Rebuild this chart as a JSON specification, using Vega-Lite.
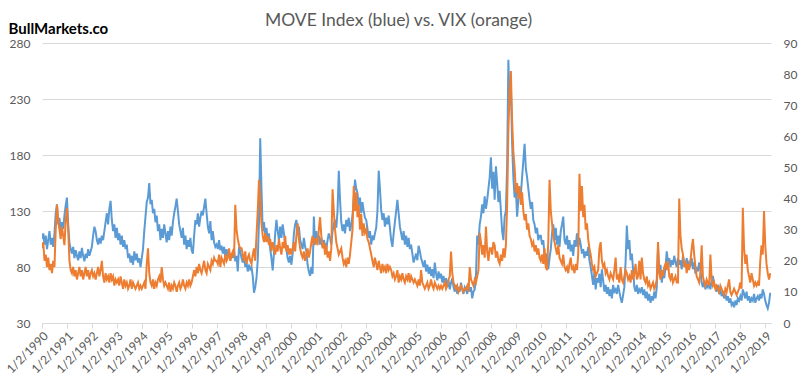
{
  "$schema": "https://vega.github.io/schema/vega-lite/v6.json",
  "width": 729,
  "height": 280,
  "autosize": {"type": "none"},
  "padding": {"left": 42, "top": 43, "right": 29, "bottom": 57},
  "background": "white",
  "title": {"text": "MOVE Index (blue) vs. VIX (orange)", "font": "Lato", "fontSize": 17.5, "fontWeight": "normal", "color": "#595959", "anchor": "middle", "frame": "group", "dx": -8, "dy": 12, "offset": 4},
  "config": {"view": {"stroke": null}},
  "data": {"values": [
{"t":1990.00,"m":105,"v":24},{"t":1990.05,"m":110,"v":26},{"t":1990.10,"m":100,"v":20},{"t":1990.15,"m":108,"v":22},{"t":1990.20,"m":96,"v":18},{"t":1990.25,"m":104,"v":21},{"t":1990.30,"m":112,"v":17},{"t":1990.35,"m":100,"v":19},{"t":1990.40,"m":106,"v":16},{"t":1990.45,"m":98,"v":20},{"t":1990.50,"m":110,"v":18},{"t":1990.55,"m":128,"v":30},{"t":1990.60,"m":136,"v":38},{"t":1990.65,"m":118,"v":33},{"t":1990.70,"m":124,"v":30},{"t":1990.75,"m":112,"v":27},{"t":1990.80,"m":120,"v":31},{"t":1990.85,"m":114,"v":28},{"t":1990.90,"m":126,"v":25},{"t":1990.95,"m":135,"v":33},
{"t":1991.00,"m":142,"v":37},{"t":1991.05,"m":118,"v":30},{"t":1991.10,"m":102,"v":20},{"t":1991.15,"m":96,"v":17},{"t":1991.20,"m":92,"v":16},{"t":1991.25,"m":98,"v":18},{"t":1991.30,"m":88,"v":15},{"t":1991.35,"m":95,"v":17},{"t":1991.40,"m":90,"v":14},{"t":1991.45,"m":86,"v":16},{"t":1991.50,"m":94,"v":18},{"t":1991.55,"m":88,"v":15},{"t":1991.60,"m":97,"v":17},{"t":1991.65,"m":90,"v":14},{"t":1991.70,"m":85,"v":16},{"t":1991.75,"m":92,"v":18},{"t":1991.80,"m":88,"v":15},{"t":1991.85,"m":96,"v":17},{"t":1991.90,"m":90,"v":14},{"t":1991.95,"m":94,"v":16},
{"t":1992.00,"m":98,"v":17},{"t":1992.05,"m":108,"v":15},{"t":1992.10,"m":116,"v":16},{"t":1992.15,"m":112,"v":14},{"t":1992.20,"m":104,"v":16},{"t":1992.25,"m":100,"v":18},{"t":1992.30,"m":106,"v":15},{"t":1992.35,"m":101,"v":17},{"t":1992.40,"m":108,"v":20},{"t":1992.45,"m":104,"v":15},{"t":1992.50,"m":112,"v":13},{"t":1992.55,"m":120,"v":16},{"t":1992.60,"m":128,"v":14},{"t":1992.65,"m":118,"v":15},{"t":1992.70,"m":132,"v":13},{"t":1992.75,"m":139,"v":16},{"t":1992.80,"m":122,"v":14},{"t":1992.85,"m":112,"v":15},{"t":1992.90,"m":118,"v":12},{"t":1992.95,"m":106,"v":14},
{"t":1993.00,"m":115,"v":13},{"t":1993.05,"m":104,"v":14},{"t":1993.10,"m":110,"v":12},{"t":1993.15,"m":100,"v":15},{"t":1993.20,"m":108,"v":13},{"t":1993.25,"m":98,"v":11},{"t":1993.30,"m":104,"v":14},{"t":1993.35,"m":96,"v":12},{"t":1993.40,"m":100,"v":13},{"t":1993.45,"m":88,"v":11},{"t":1993.50,"m":92,"v":12},{"t":1993.55,"m":84,"v":14},{"t":1993.60,"m":90,"v":11},{"t":1993.65,"m":82,"v":13},{"t":1993.70,"m":94,"v":12},{"t":1993.75,"m":86,"v":11},{"t":1993.80,"m":92,"v":12},{"t":1993.85,"m":84,"v":13},{"t":1993.90,"m":88,"v":11},{"t":1993.95,"m":80,"v":12},
{"t":1994.00,"m":88,"v":11},{"t":1994.05,"m":96,"v":12},{"t":1994.10,"m":112,"v":13},{"t":1994.15,"m":125,"v":11},{"t":1994.20,"m":138,"v":19},{"t":1994.25,"m":142,"v":24},{"t":1994.30,"m":155,"v":16},{"t":1994.35,"m":136,"v":13},{"t":1994.40,"m":140,"v":12},{"t":1994.45,"m":128,"v":14},{"t":1994.50,"m":132,"v":11},{"t":1994.55,"m":120,"v":13},{"t":1994.60,"m":126,"v":12},{"t":1994.65,"m":112,"v":14},{"t":1994.70,"m":118,"v":15},{"t":1994.75,"m":104,"v":13},{"t":1994.80,"m":114,"v":18},{"t":1994.85,"m":106,"v":14},{"t":1994.90,"m":118,"v":12},{"t":1994.95,"m":110,"v":13},
{"t":1995.00,"m":102,"v":12},{"t":1995.05,"m":112,"v":11},{"t":1995.10,"m":104,"v":13},{"t":1995.15,"m":116,"v":10},{"t":1995.20,"m":108,"v":12},{"t":1995.25,"m":120,"v":11},{"t":1995.30,"m":128,"v":13},{"t":1995.35,"m":134,"v":12},{"t":1995.40,"m":141,"v":10},{"t":1995.45,"m":130,"v":12},{"t":1995.50,"m":118,"v":13},{"t":1995.55,"m":112,"v":11},{"t":1995.60,"m":106,"v":12},{"t":1995.65,"m":115,"v":14},{"t":1995.70,"m":100,"v":12},{"t":1995.75,"m":108,"v":11},{"t":1995.80,"m":96,"v":13},{"t":1995.85,"m":104,"v":12},{"t":1995.90,"m":98,"v":14},{"t":1995.95,"m":106,"v":12},
{"t":1996.00,"m":95,"v":13},{"t":1996.05,"m":92,"v":15},{"t":1996.10,"m":108,"v":17},{"t":1996.15,"m":122,"v":15},{"t":1996.20,"m":118,"v":18},{"t":1996.25,"m":128,"v":16},{"t":1996.30,"m":116,"v":19},{"t":1996.35,"m":124,"v":17},{"t":1996.40,"m":130,"v":16},{"t":1996.45,"m":126,"v":18},{"t":1996.50,"m":134,"v":20},{"t":1996.55,"m":141,"v":17},{"t":1996.60,"m":128,"v":16},{"t":1996.65,"m":116,"v":19},{"t":1996.70,"m":110,"v":18},{"t":1996.75,"m":121,"v":17},{"t":1996.80,"m":104,"v":20},{"t":1996.85,"m":112,"v":19},{"t":1996.90,"m":102,"v":21},{"t":1996.95,"m":98,"v":20},
{"t":1997.00,"m":100,"v":20},{"t":1997.05,"m":96,"v":19},{"t":1997.10,"m":104,"v":22},{"t":1997.15,"m":95,"v":18},{"t":1997.20,"m":99,"v":21},{"t":1997.25,"m":92,"v":20},{"t":1997.30,"m":98,"v":19},{"t":1997.35,"m":88,"v":22},{"t":1997.40,"m":96,"v":20},{"t":1997.45,"m":90,"v":21},{"t":1997.50,"m":94,"v":24},{"t":1997.55,"m":86,"v":20},{"t":1997.60,"m":92,"v":22},{"t":1997.65,"m":88,"v":23},{"t":1997.70,"m":96,"v":21},{"t":1997.75,"m":85,"v":38},{"t":1997.80,"m":90,"v":30},{"t":1997.85,"m":76,"v":27},{"t":1997.90,"m":98,"v":25},{"t":1997.95,"m":94,"v":24},
{"t":1998.00,"m":88,"v":24},{"t":1998.05,"m":84,"v":22},{"t":1998.10,"m":90,"v":20},{"t":1998.15,"m":80,"v":23},{"t":1998.20,"m":84,"v":19},{"t":1998.25,"m":76,"v":21},{"t":1998.30,"m":82,"v":22},{"t":1998.35,"m":78,"v":20},{"t":1998.40,"m":80,"v":19},{"t":1998.45,"m":72,"v":22},{"t":1998.50,"m":57,"v":24},{"t":1998.55,"m":62,"v":20},{"t":1998.60,"m":70,"v":28},{"t":1998.65,"m":86,"v":36},{"t":1998.70,"m":120,"v":46},{"t":1998.75,"m":195,"v":40},{"t":1998.80,"m":150,"v":32},{"t":1998.85,"m":112,"v":28},{"t":1998.90,"m":120,"v":26},{"t":1998.95,"m":108,"v":29},
{"t":1999.00,"m":115,"v":26},{"t":1999.05,"m":104,"v":28},{"t":1999.10,"m":110,"v":25},{"t":1999.15,"m":96,"v":27},{"t":1999.20,"m":88,"v":23},{"t":1999.25,"m":77,"v":26},{"t":1999.30,"m":92,"v":24},{"t":1999.35,"m":110,"v":22},{"t":1999.40,"m":122,"v":25},{"t":1999.45,"m":112,"v":23},{"t":1999.50,"m":104,"v":27},{"t":1999.55,"m":116,"v":24},{"t":1999.60,"m":106,"v":22},{"t":1999.65,"m":118,"v":26},{"t":1999.70,"m":110,"v":24},{"t":1999.75,"m":100,"v":28},{"t":1999.80,"m":96,"v":23},{"t":1999.85,"m":88,"v":25},{"t":1999.90,"m":84,"v":22},{"t":1999.95,"m":90,"v":24},
{"t":2000.00,"m":82,"v":22},{"t":2000.05,"m":92,"v":24},{"t":2000.10,"m":110,"v":26},{"t":2000.15,"m":118,"v":23},{"t":2000.20,"m":122,"v":28},{"t":2000.25,"m":112,"v":32},{"t":2000.30,"m":116,"v":27},{"t":2000.35,"m":104,"v":24},{"t":2000.40,"m":100,"v":22},{"t":2000.45,"m":96,"v":21},{"t":2000.50,"m":106,"v":23},{"t":2000.55,"m":98,"v":20},{"t":2000.60,"m":94,"v":22},{"t":2000.65,"m":82,"v":24},{"t":2000.70,"m":76,"v":21},{"t":2000.75,"m":72,"v":23},{"t":2000.80,"m":80,"v":26},{"t":2000.85,"m":74,"v":28},{"t":2000.90,"m":125,"v":25},{"t":2000.95,"m":100,"v":27},
{"t":2001.00,"m":112,"v":27},{"t":2001.05,"m":104,"v":25},{"t":2001.10,"m":108,"v":30},{"t":2001.15,"m":100,"v":34},{"t":2001.20,"m":106,"v":28},{"t":2001.25,"m":98,"v":24},{"t":2001.30,"m":104,"v":26},{"t":2001.35,"m":100,"v":22},{"t":2001.40,"m":96,"v":25},{"t":2001.45,"m":104,"v":21},{"t":2001.50,"m":110,"v":23},{"t":2001.55,"m":106,"v":20},{"t":2001.60,"m":100,"v":24},{"t":2001.65,"m":112,"v":43},{"t":2001.70,"m":118,"v":36},{"t":2001.75,"m":122,"v":30},{"t":2001.80,"m":115,"v":26},{"t":2001.85,"m":130,"v":24},{"t":2001.90,"m":166,"v":22},{"t":2001.95,"m":140,"v":23},
{"t":2002.00,"m":120,"v":24},{"t":2002.05,"m":112,"v":21},{"t":2002.10,"m":118,"v":19},{"t":2002.15,"m":110,"v":20},{"t":2002.20,"m":122,"v":18},{"t":2002.25,"m":116,"v":21},{"t":2002.30,"m":124,"v":19},{"t":2002.35,"m":112,"v":22},{"t":2002.40,"m":118,"v":26},{"t":2002.45,"m":126,"v":30},{"t":2002.50,"m":140,"v":44},{"t":2002.55,"m":158,"v":36},{"t":2002.60,"m":150,"v":42},{"t":2002.65,"m":146,"v":34},{"t":2002.70,"m":134,"v":38},{"t":2002.75,"m":142,"v":30},{"t":2002.80,"m":128,"v":35},{"t":2002.85,"m":138,"v":28},{"t":2002.90,"m":130,"v":32},{"t":2002.95,"m":124,"v":29},
{"t":2003.00,"m":122,"v":30},{"t":2003.05,"m":114,"v":27},{"t":2003.10,"m":106,"v":26},{"t":2003.15,"m":112,"v":24},{"t":2003.20,"m":100,"v":22},{"t":2003.25,"m":108,"v":20},{"t":2003.30,"m":104,"v":18},{"t":2003.35,"m":110,"v":21},{"t":2003.40,"m":115,"v":19},{"t":2003.45,"m":130,"v":17},{"t":2003.50,"m":166,"v":20},{"t":2003.55,"m":150,"v":18},{"t":2003.60,"m":131,"v":16},{"t":2003.65,"m":122,"v":19},{"t":2003.70,"m":128,"v":17},{"t":2003.75,"m":116,"v":18},{"t":2003.80,"m":124,"v":16},{"t":2003.85,"m":118,"v":19},{"t":2003.90,"m":126,"v":17},{"t":2003.95,"m":115,"v":18},
{"t":2004.00,"m":104,"v":17},{"t":2004.05,"m":98,"v":15},{"t":2004.10,"m":110,"v":16},{"t":2004.15,"m":120,"v":14},{"t":2004.20,"m":130,"v":15},{"t":2004.25,"m":140,"v":17},{"t":2004.30,"m":128,"v":13},{"t":2004.35,"m":116,"v":15},{"t":2004.40,"m":110,"v":14},{"t":2004.45,"m":104,"v":16},{"t":2004.50,"m":112,"v":14},{"t":2004.55,"m":100,"v":13},{"t":2004.60,"m":108,"v":15},{"t":2004.65,"m":98,"v":14},{"t":2004.70,"m":106,"v":16},{"t":2004.75,"m":96,"v":13},{"t":2004.80,"m":100,"v":15},{"t":2004.85,"m":92,"v":14},{"t":2004.90,"m":84,"v":13},{"t":2004.95,"m":88,"v":14},
{"t":2005.00,"m":92,"v":13},{"t":2005.05,"m":86,"v":12},{"t":2005.10,"m":99,"v":14},{"t":2005.15,"m":94,"v":12},{"t":2005.20,"m":88,"v":17},{"t":2005.25,"m":84,"v":13},{"t":2005.30,"m":80,"v":12},{"t":2005.35,"m":86,"v":11},{"t":2005.40,"m":76,"v":12},{"t":2005.45,"m":82,"v":13},{"t":2005.50,"m":74,"v":11},{"t":2005.55,"m":80,"v":12},{"t":2005.60,"m":72,"v":14},{"t":2005.65,"m":78,"v":12},{"t":2005.70,"m":70,"v":11},{"t":2005.75,"m":84,"v":13},{"t":2005.80,"m":74,"v":12},{"t":2005.85,"m":68,"v":11},{"t":2005.90,"m":76,"v":12},{"t":2005.95,"m":70,"v":11},
{"t":2006.00,"m":74,"v":12},{"t":2006.05,"m":66,"v":11},{"t":2006.10,"m":72,"v":12},{"t":2006.15,"m":64,"v":13},{"t":2006.20,"m":70,"v":11},{"t":2006.25,"m":62,"v":12},{"t":2006.30,"m":68,"v":14},{"t":2006.35,"m":60,"v":15},{"t":2006.40,"m":66,"v":23},{"t":2006.45,"m":70,"v":16},{"t":2006.50,"m":62,"v":13},{"t":2006.55,"m":58,"v":12},{"t":2006.60,"m":64,"v":11},{"t":2006.65,"m":56,"v":12},{"t":2006.70,"m":62,"v":10},{"t":2006.75,"m":58,"v":11},{"t":2006.80,"m":66,"v":12},{"t":2006.85,"m":60,"v":11},{"t":2006.90,"m":56,"v":10},{"t":2006.95,"m":62,"v":11},
{"t":2007.00,"m":60,"v":11},{"t":2007.05,"m":56,"v":12},{"t":2007.10,"m":64,"v":10},{"t":2007.15,"m":58,"v":18},{"t":2007.20,"m":62,"v":14},{"t":2007.25,"m":52,"v":13},{"t":2007.30,"m":58,"v":12},{"t":2007.35,"m":60,"v":14},{"t":2007.40,"m":72,"v":13},{"t":2007.45,"m":108,"v":15},{"t":2007.50,"m":100,"v":17},{"t":2007.55,"m":118,"v":29},{"t":2007.60,"m":125,"v":26},{"t":2007.65,"m":136,"v":22},{"t":2007.70,"m":128,"v":25},{"t":2007.75,"m":143,"v":21},{"t":2007.80,"m":132,"v":31},{"t":2007.85,"m":140,"v":23},{"t":2007.90,"m":150,"v":20},{"t":2007.95,"m":160,"v":24},
{"t":2008.00,"m":178,"v":24},{"t":2008.05,"m":150,"v":22},{"t":2008.10,"m":165,"v":26},{"t":2008.15,"m":140,"v":25},{"t":2008.20,"m":170,"v":21},{"t":2008.25,"m":155,"v":23},{"t":2008.30,"m":138,"v":20},{"t":2008.35,"m":148,"v":19},{"t":2008.40,"m":130,"v":22},{"t":2008.45,"m":112,"v":20},{"t":2008.50,"m":104,"v":24},{"t":2008.55,"m":125,"v":21},{"t":2008.60,"m":130,"v":25},{"t":2008.65,"m":170,"v":38},{"t":2008.70,"m":265,"v":62},{"t":2008.75,"m":225,"v":75},{"t":2008.80,"m":240,"v":81},{"t":2008.85,"m":190,"v":65},{"t":2008.90,"m":160,"v":55},{"t":2008.95,"m":142,"v":50},
{"t":2009.00,"m":150,"v":42},{"t":2009.05,"m":125,"v":45},{"t":2009.10,"m":140,"v":40},{"t":2009.15,"m":150,"v":44},{"t":2009.20,"m":145,"v":38},{"t":2009.25,"m":160,"v":42},{"t":2009.30,"m":175,"v":36},{"t":2009.35,"m":190,"v":33},{"t":2009.40,"m":168,"v":35},{"t":2009.45,"m":160,"v":30},{"t":2009.50,"m":150,"v":32},{"t":2009.55,"m":140,"v":28},{"t":2009.60,"m":132,"v":27},{"t":2009.65,"m":138,"v":25},{"t":2009.70,"m":122,"v":26},{"t":2009.75,"m":118,"v":23},{"t":2009.80,"m":110,"v":25},{"t":2009.85,"m":115,"v":22},{"t":2009.90,"m":104,"v":24},{"t":2009.95,"m":108,"v":21},
{"t":2010.00,"m":108,"v":20},{"t":2010.05,"m":100,"v":22},{"t":2010.10,"m":104,"v":19},{"t":2010.15,"m":90,"v":24},{"t":2010.20,"m":82,"v":18},{"t":2010.25,"m":92,"v":17},{"t":2010.30,"m":78,"v":26},{"t":2010.35,"m":88,"v":46},{"t":2010.40,"m":96,"v":36},{"t":2010.45,"m":110,"v":32},{"t":2010.50,"m":118,"v":28},{"t":2010.55,"m":104,"v":26},{"t":2010.60,"m":115,"v":24},{"t":2010.65,"m":100,"v":22},{"t":2010.70,"m":108,"v":25},{"t":2010.75,"m":98,"v":21},{"t":2010.80,"m":112,"v":20},{"t":2010.85,"m":118,"v":19},{"t":2010.90,"m":125,"v":22},{"t":2010.95,"m":104,"v":18},
{"t":2011.00,"m":100,"v":17},{"t":2011.05,"m":108,"v":18},{"t":2011.10,"m":96,"v":16},{"t":2011.15,"m":104,"v":19},{"t":2011.20,"m":94,"v":21},{"t":2011.25,"m":100,"v":17},{"t":2011.30,"m":90,"v":18},{"t":2011.35,"m":104,"v":16},{"t":2011.40,"m":98,"v":19},{"t":2011.45,"m":110,"v":17},{"t":2011.50,"m":98,"v":22},{"t":2011.55,"m":106,"v":48},{"t":2011.60,"m":100,"v":36},{"t":2011.65,"m":92,"v":44},{"t":2011.70,"m":96,"v":34},{"t":2011.75,"m":88,"v":38},{"t":2011.80,"m":94,"v":30},{"t":2011.85,"m":90,"v":32},{"t":2011.90,"m":98,"v":27},{"t":2011.95,"m":86,"v":24},
{"t":2012.00,"m":80,"v":22},{"t":2012.05,"m":72,"v":19},{"t":2012.10,"m":64,"v":17},{"t":2012.15,"m":76,"v":18},{"t":2012.20,"m":60,"v":15},{"t":2012.25,"m":70,"v":16},{"t":2012.30,"m":66,"v":17},{"t":2012.35,"m":74,"v":24},{"t":2012.40,"m":62,"v":26},{"t":2012.45,"m":78,"v":20},{"t":2012.50,"m":68,"v":18},{"t":2012.55,"m":58,"v":19},{"t":2012.60,"m":64,"v":16},{"t":2012.65,"m":56,"v":17},{"t":2012.70,"m":62,"v":15},{"t":2012.75,"m":54,"v":14},{"t":2012.80,"m":60,"v":16},{"t":2012.85,"m":52,"v":15},{"t":2012.90,"m":64,"v":14},{"t":2012.95,"m":58,"v":17},
{"t":2013.00,"m":60,"v":21},{"t":2013.05,"m":56,"v":14},{"t":2013.10,"m":64,"v":15},{"t":2013.15,"m":58,"v":13},{"t":2013.20,"m":52,"v":18},{"t":2013.25,"m":48,"v":14},{"t":2013.30,"m":55,"v":13},{"t":2013.35,"m":62,"v":15},{"t":2013.40,"m":85,"v":17},{"t":2013.45,"m":117,"v":16},{"t":2013.50,"m":96,"v":14},{"t":2013.55,"m":104,"v":15},{"t":2013.60,"m":86,"v":13},{"t":2013.65,"m":92,"v":17},{"t":2013.70,"m":78,"v":14},{"t":2013.75,"m":62,"v":16},{"t":2013.80,"m":58,"v":19},{"t":2013.85,"m":64,"v":14},{"t":2013.90,"m":56,"v":15},{"t":2013.95,"m":60,"v":20},
{"t":2014.00,"m":58,"v":14},{"t":2014.05,"m":62,"v":21},{"t":2014.10,"m":55,"v":16},{"t":2014.15,"m":60,"v":14},{"t":2014.20,"m":52,"v":13},{"t":2014.25,"m":58,"v":15},{"t":2014.30,"m":50,"v":12},{"t":2014.35,"m":56,"v":13},{"t":2014.40,"m":48,"v":11},{"t":2014.45,"m":54,"v":12},{"t":2014.50,"m":50,"v":13},{"t":2014.55,"m":58,"v":11},{"t":2014.60,"m":52,"v":12},{"t":2014.65,"m":62,"v":14},{"t":2014.70,"m":97,"v":26},{"t":2014.75,"m":74,"v":16},{"t":2014.80,"m":82,"v":14},{"t":2014.85,"m":66,"v":17},{"t":2014.90,"m":76,"v":15},{"t":2014.95,"m":70,"v":18},
{"t":2015.00,"m":80,"v":19},{"t":2015.05,"m":94,"v":17},{"t":2015.10,"m":84,"v":20},{"t":2015.15,"m":88,"v":15},{"t":2015.20,"m":80,"v":14},{"t":2015.25,"m":86,"v":16},{"t":2015.30,"m":82,"v":13},{"t":2015.35,"m":90,"v":14},{"t":2015.40,"m":84,"v":15},{"t":2015.45,"m":80,"v":13},{"t":2015.50,"m":88,"v":13},{"t":2015.55,"m":82,"v":40},{"t":2015.60,"m":86,"v":28},{"t":2015.65,"m":78,"v":24},{"t":2015.70,"m":90,"v":22},{"t":2015.75,"m":84,"v":18},{"t":2015.80,"m":80,"v":20},{"t":2015.85,"m":88,"v":16},{"t":2015.90,"m":78,"v":19},{"t":2015.95,"m":84,"v":17},
{"t":2016.00,"m":82,"v":20},{"t":2016.05,"m":88,"v":24},{"t":2016.10,"m":78,"v":27},{"t":2016.15,"m":84,"v":22},{"t":2016.20,"m":74,"v":18},{"t":2016.25,"m":80,"v":15},{"t":2016.30,"m":76,"v":14},{"t":2016.35,"m":84,"v":13},{"t":2016.40,"m":78,"v":16},{"t":2016.45,"m":66,"v":25},{"t":2016.50,"m":62,"v":15},{"t":2016.55,"m":68,"v":13},{"t":2016.60,"m":60,"v":12},{"t":2016.65,"m":64,"v":14},{"t":2016.70,"m":62,"v":13},{"t":2016.75,"m":66,"v":12},{"t":2016.80,"m":60,"v":22},{"t":2016.85,"m":68,"v":14},{"t":2016.90,"m":72,"v":12},{"t":2016.95,"m":64,"v":13},
{"t":2017.00,"m":62,"v":11},{"t":2017.05,"m":58,"v":12},{"t":2017.10,"m":64,"v":11},{"t":2017.15,"m":56,"v":10},{"t":2017.20,"m":60,"v":12},{"t":2017.25,"m":54,"v":11},{"t":2017.30,"m":58,"v":10},{"t":2017.35,"m":52,"v":9},{"t":2017.40,"m":56,"v":11},{"t":2017.45,"m":50,"v":10},{"t":2017.50,"m":54,"v":12},{"t":2017.55,"m":48,"v":14},{"t":2017.60,"m":52,"v":10},{"t":2017.65,"m":46,"v":9},{"t":2017.70,"m":48,"v":10},{"t":2017.75,"m":44,"v":11},{"t":2017.80,"m":50,"v":10},{"t":2017.85,"m":46,"v":9},{"t":2017.90,"m":52,"v":10},{"t":2017.95,"m":50,"v":11},
{"t":2018.00,"m":54,"v":13},{"t":2018.05,"m":50,"v":11},{"t":2018.10,"m":60,"v":37},{"t":2018.15,"m":56,"v":24},{"t":2018.20,"m":52,"v":19},{"t":2018.25,"m":58,"v":22},{"t":2018.30,"m":50,"v":17},{"t":2018.35,"m":54,"v":15},{"t":2018.40,"m":48,"v":13},{"t":2018.45,"m":52,"v":16},{"t":2018.50,"m":50,"v":14},{"t":2018.55,"m":56,"v":12},{"t":2018.60,"m":48,"v":13},{"t":2018.65,"m":52,"v":12},{"t":2018.70,"m":54,"v":13},{"t":2018.75,"m":50,"v":12},{"t":2018.80,"m":56,"v":20},{"t":2018.85,"m":52,"v":25},{"t":2018.90,"m":60,"v":22},{"t":2018.95,"m":56,"v":36},
{"t":2019.00,"m":50,"v":25},{"t":2019.05,"m":46,"v":19},{"t":2019.10,"m":43,"v":16},{"t":2019.15,"m":48,"v":14},{"t":2019.20,"m":57,"v":16}
  ]},
  "encoding": {
    "x": {"field": "t", "type": "quantitative", "scale": {"domain": [1990, 2019.23], "nice": false, "zero": false},
      "axis": {"title": null, "values": [1990,1991,1992,1993,1994,1995,1996,1997,1998,1999,2000,2001,2002,2003,2004,2005,2006,2007,2008,2009,2010,2011,2012,2013,2014,2015,2016,2017,2018,2019],
        "labelExpr": "'1/2/' + datum.value", "labelAngle": -45, "labelFont": "Lato", "labelFontSize": 12, "labelColor": "#595959", "labelOverlap": false, "labelBound": false,
        "grid": false, "domainColor": "#d9d9d9", "tickColor": "#d9d9d9", "tickSize": 5, "labelPadding": 2}}
  },
  "layer": [
    {
      "mark": {"type": "line", "color": "#5b9bd5", "strokeWidth": 2, "clip": true},
      "encoding": {
        "y": {"field": "m", "type": "quantitative", "scale": {"domain": [30, 280], "nice": false, "zero": false},
          "axis": {"title": "BullMarkets.co", "titleAngle": 0, "titleX": -34, "titleY": -15, "titleAlign": "left", "titleBaseline": "middle",
            "titleFont": "Lato", "titleFontSize": 15, "titleFontWeight": "bold", "titleColor": "#000000",
            "values": [30, 80, 130, 180, 230, 280], "grid": true, "gridColor": "#d9d9d9", "domain": false, "ticks": false,
            "labelFont": "Lato", "labelFontSize": 12, "labelColor": "#595959", "labelPadding": 12}}
      }
    },
    {
      "mark": {"type": "line", "color": "#ed7d31", "strokeWidth": 2, "clip": true},
      "encoding": {
        "y": {"field": "v", "type": "quantitative", "scale": {"domain": [0, 90], "nice": false, "zero": false},
          "axis": {"title": null, "orient": "right", "values": [0,10,20,30,40,50,60,70,80,90], "grid": false, "domain": false, "ticks": false,
            "labelFont": "Lato", "labelFontSize": 12, "labelColor": "#595959", "labelPadding": 12}}
      }
    }
  ],
  "resolve": {"scale": {"y": "independent"}}
}
